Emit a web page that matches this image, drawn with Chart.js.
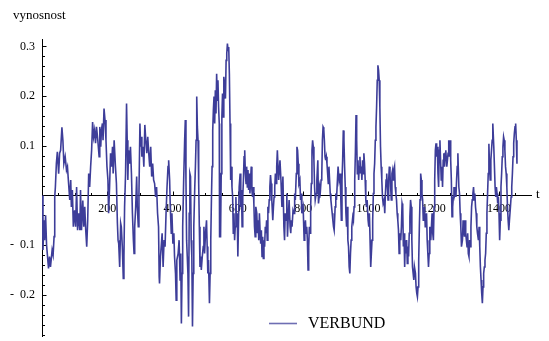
<!DOCTYPE html>
<html><head><meta charset="utf-8">
<script src="https://cdn.jsdelivr.net/npm/chart.js@4.4.1/dist/chart.umd.min.js"></script>
<style>html,body{margin:0;padding:0;background:#fff;overflow:hidden}#wrap{width:549px;height:341px}</style>
</head><body><div id="wrap"><canvas id="c" width="549" height="341"></canvas></div>
<script>
const seriesName = 'VERBUND';
const xAxisTitle = 't';
const yAxisTitle = 'vynosnost';
const xTickLabels = [200, 400, 600, 800, 1000, 1200, 1400];
const yTickLabels = [-0.2, -0.1, 0.1, 0.2, 0.3];

const days = [
1,3,6,8,11,14,20,23,26,31,
34,37,39,41,44,47,51,54,57,61,
64,67,71,75,78,80,85,88,90,93,
96,100,103,106,109,112,116,118,121,125,
128,131,134,137,140,143,146,149,152,155,
158,161,164,167,
171,175,177,180,182,185,187,190,193,196,
199,202,204,207,210,213,216,218,221,225,
228,231,233,235,238,241,243,246,249,251,
253,256,259,261,263,265,268,271,274,277,
280,282,284,287,290,292,295,297,300,302,
304,306,309,312,315,318,321,324,327,330,
333,336,339,342,345,348,351,354,357,359,
360,363,368,371,374,377,380,383,386,388,
391,393,396,398,401,404,406,409,411,413,
417,420,423,425,427,429,431,434,437,439,
441,443,445,447,449,451,453,455,457,459,
461,463,465,468,470,472,474,476,478,480,
482,484,486,488,491,494,496,498,501,504,
506,508,510,513,515,517,519,521,523,525,
527,529,531,533,535,537,539,541,543,
544,547,549,551,553,555,557,560,562,564,
566,568,570,572,574,576,578,580,582,584,
586,588,590,592,594,596,598,600,602,604,
607,609,611,613,615,617,619,621,623,625,
627,629,631,633,635,637,639,641,643,645,
647,649,651,653,655,658,660,662,664,666,
668,670,672,674,676,678,680,682,684,686,
688,690,692,694,696,698,700,702,704,707,
709,711,713,715,717,719,721,723,725,
729,732,735,738,741,743,745,748,750,752,
754,757,760,762,764,766,769,772,774,776,
779,781,783,785,787,790,792,794,796,800,
803,805,807,809,811,813,815,817,819,821,
823,825,827,829,831,833,835,837,840,842,
845,847,849,851,853,855,857,859,861,863,
865,867,869,871,873,875,877,879,881,883,
885,887,889,891,893,895,898,900,902,904,
907,910,913,915,917,919,921,923,925,927,
929,931,933,935,937,939,941,943,945,947,
949,952,954,956,958,960,962,964,966,968,
970,972,974,976,978,980,982,984,986,988,
990,992,994,996,999,1001,1003,1005,1007,1009,
1011,1013,1015,1017,1019,1021,1023,1025,1027,1029,
1031,1033,1035,1037,1039,1041,1043,1045,1048,1050,
1052,1054,1056,1058,1060,1062,1064,1066,1068,1070,
1072,1074,1076,1078,1080,1082,1084,1086,1088,1090,
1092,
1094,1096,1099,1101,1103,1105,1107,1109,1111,1113,
1115,1117,1119,1121,1123,1125,1127,1129,1131,1133,
1135,1137,1139,1141,1144,1146,1148,1150,1152,1154,
1156,1158,1160,1162,1164,1166,1168,1170,1172,1174,
1176,1178,1180,1182,1184,1186,1188,1191,1193,1195,
1197,1199,1201,1203,1205,1207,1209,1211,1213,1215,
1217,1219,1221,1223,1225,1227,1229,1231,1233,1235,
1237,1240,1242,1244,1246,1248,1250,1252,1254,1256,
1258,1260,1262,1264,1266,1268,1270,1272,1274,
1277,1279,1281,1283,1285,1288,1290,1292,1294,1296,
1298,1300,1302,1304,1306,1308,1310,1312,1314,1316,
1318,1320,1322,1324,1326,1328,1330,1332,1334,1337,
1339,1341,1343,1345,1347,1349,1351,1353,1355,1357,
1359,1361,1363,1365,1367,1369,1371,1373,1375,1377,
1379,1381,1384,1386,1388,1390,1392,1394,1396,1398,
1400,1402,1404,1406,1408,1410,1412,1414,1416,1418,
1420,1422,1424,1426,1428,1430,1432,1435,1437,1439,
1441,1443,1445,1447,1449,1451,1453,1455
];

const returns = [
0.0,-0.11,-0.05,-0.09,-0.04,-0.10,-0.147,-0.123,-0.144,-0.11,
-0.12,-0.083,-0.003,0.017,0.064,0.088,0.044,0.085,0.091,0.137,
0.111,0.064,0.078,0.051,0.058,0.038,-0.009,0.031,-0.023,0.011,
-0.063,-0.03,-0.063,0.017,-0.07,-0.036,-0.07,0.011,-0.07,-0.01,
-0.063,-0.023,-0.07,-0.103,-0.05,0.044,0.017,0.058,0.091,0.148,
0.118,0.131,0.105,0.138,
0.111,0.078,0.138,0.098,0.131,0.145,0.111,0.175,0.152,0.111,
0.058,0.031,-0.036,0.017,0.085,0.058,0.098,0.044,0.111,0.058,
0.024,-0.056,-0.09,-0.097,-0.144,-0.056,-0.063,-0.103,-0.167,-0.123,
-0.023,0.044,0.185,0.111,0.031,0.091,0.064,0.098,0.044,-0.036,
-0.09,-0.117,-0.063,-0.023,0.038,-0.023,-0.063,0.004,0.145,0.098,
0.118,0.078,0.098,0.058,0.142,0.111,0.085,0.118,0.085,0.058,
0.098,0.038,0.064,0.031,0.024,-0.003,0.017,-0.036,-0.063,-0.164,
-0.177,-0.123,-0.076,-0.144,-0.09,-0.103,-0.036,0.017,0.058,0.071,
0.031,-0.023,-0.076,-0.036,-0.097,-0.076,-0.123,-0.157,-0.211,-0.13,
-0.117,-0.09,-0.17,-0.117,-0.258,-0.157,-0.063,0.031,0.111,0.152,
0.031,-0.09,-0.123,-0.157,-0.244,-0.036,0.044,0.038,-0.09,-0.123,
-0.264,-0.157,-0.063,0.017,0.058,0.111,0.199,0.138,0.111,0.024,
-0.063,-0.144,-0.123,-0.15,-0.123,-0.103,-0.063,-0.117,-0.076,-0.05,
-0.103,-0.157,-0.13,-0.217,-0.157,-0.09,-0.009,0.058,0.131,0.172,
0.199,0.145,0.212,0.165,0.245,0.192,0.232,0.178,0.145,
-0.083,-0.083,0.044,0.158,0.205,0.158,0.239,0.219,0.195,0.272,
0.286,0.306,0.292,0.299,0.245,0.145,0.031,0.058,0.017,-0.003,
-0.076,-0.036,-0.09,-0.063,-0.003,-0.063,-0.036,-0.123,-0.056,0.017,
0.044,-0.023,0.011,-0.063,-0.003,0.031,0.078,0.091,0.044,0.024,
0.058,0.017,0.051,0.011,0.044,0.004,0.031,0.058,0.011,-0.003,
0.017,-0.016,-0.063,-0.083,-0.023,-0.036,-0.076,-0.05,-0.09,-0.036,
-0.07,-0.097,-0.07,-0.123,-0.083,-0.127,-0.09,-0.103,-0.063,-0.076,
-0.05,-0.09,-0.023,-0.036,-0.009,0.017,0.041,0.024,-0.009,-0.05,
-0.023,-0.003,0.017,0.044,0.024,0.058,0.091,0.058,0.031,
0.071,0.031,-0.023,0.038,-0.063,-0.09,-0.036,-0.05,0.004,-0.083,
-0.05,-0.009,-0.063,-0.076,-0.05,-0.063,-0.03,-0.036,0.004,-0.009,
0.044,0.098,0.091,0.064,0.024,0.031,-0.009,0.004,-0.036,-0.023,
-0.09,-0.063,-0.05,-0.076,-0.063,-0.09,-0.15,-0.103,-0.063,-0.076,
-0.023,0.024,0.091,0.111,0.098,0.071,0.017,-0.009,0.004,0.031,
0.071,-0.016,-0.003,0.017,0.011,0.031,0.038,0.111,0.138,0.135,
0.111,0.078,0.071,0.078,0.064,0.044,0.024,0.058,0.031,0.004,
-0.009,-0.023,-0.036,-0.05,-0.063,-0.07,-0.023,0.004,-0.009,0.017,
0.058,0.031,0.044,0.004,-0.05,0.031,0.071,0.131,0.111,0.058,
0.017,-0.036,-0.063,-0.023,-0.09,-0.103,-0.144,-0.157,-0.117,-0.09,
-0.063,-0.043,-0.05,-0.023,0.031,0.085,0.162,0.111,0.044,0.071,
0.031,0.058,0.078,0.044,0.058,0.031,0.071,0.044,0.085,0.064,
0.031,-0.009,-0.023,-0.009,-0.05,-0.063,-0.036,-0.09,-0.144,-0.117,
-0.09,-0.05,0.004,0.044,0.064,0.111,0.138,0.178,0.232,0.262,
0.252,0.232,0.178,0.098,0.058,0.031,-0.003,-0.016,-0.009,-0.036,
0.004,0.031,0.044,0.017,-0.009,0.031,0.058,0.044,0.017,-0.009,
0.044,0.051,0.031,0.051,0.058,0.017,0.004,-0.009,-0.036,-0.05,
-0.07,
-0.117,-0.076,-0.09,-0.063,-0.016,-0.023,-0.103,-0.076,-0.144,-0.09,
-0.117,-0.09,-0.137,-0.103,-0.123,-0.076,-0.043,-0.009,-0.023,-0.09,
-0.144,-0.157,-0.17,-0.144,-0.157,-0.184,-0.197,-0.204,-0.184,-0.13,
-0.063,-0.009,0.044,0.031,0.004,-0.009,-0.05,-0.036,-0.023,-0.063,
-0.05,-0.036,-0.09,-0.117,-0.144,-0.117,-0.063,-0.09,-0.063,-0.036,
-0.076,-0.09,-0.023,0.031,0.091,0.105,0.078,0.098,0.044,0.017,
0.091,0.111,0.071,0.031,0.058,0.017,0.071,0.085,0.058,0.085,
0.091,0.058,0.071,0.085,0.111,0.078,0.111,0.071,0.031,-0.043,
-0.023,-0.003,0.017,0.004,0.017,-0.003,0.031,0.058,0.085,
0.017,0.004,-0.036,-0.063,-0.103,-0.09,-0.05,-0.063,-0.083,-0.05,
-0.076,-0.09,-0.103,-0.076,-0.117,-0.123,-0.09,-0.103,-0.063,-0.023,
-0.009,0.004,0.017,-0.009,0.004,-0.023,-0.036,-0.063,-0.076,-0.09,
-0.063,-0.103,-0.144,-0.17,-0.197,-0.217,-0.184,-0.157,-0.144,-0.13,
-0.117,-0.076,-0.036,0.004,0.044,0.104,0.058,0.031,0.071,0.091,
0.111,0.145,0.098,0.058,0.017,-0.003,0.017,0.004,-0.016,-0.003,
-0.036,-0.09,-0.05,0.017,0.044,0.078,0.098,0.118,0.111,0.091,
0.058,0.044,0.017,-0.023,-0.05,-0.07,-0.05,-0.023,-0.003,0.017,
0.044,0.078,0.105,0.125,0.138,0.145,0.111,0.064
];

const FONT_FAMILY = '"Liberation Serif", "Times New Roman", Times, serif';
const LINE_COLOR = '#3d3d99';

const points = days.map((d, i) => ({ x: d, y: returns[i] }));
if (days.length !== returns.length) console.error('length mismatch', days.length, returns.length);

function fmtY(v) {
  const r = Math.round(v * 10) / 10;
  if (!yTickLabels.some(t => Math.abs(t - r) < 1e-9) || Math.abs(v - r) > 1e-6) return '';
  return r < 0 ? '-  ' + Math.abs(r).toFixed(1) : r.toFixed(1);
}

function noEdgePadding(s) {
  s.paddingTop = 0; s.paddingBottom = 0; s.paddingLeft = 0; s.paddingRight = 0;
}

const mmaAxes = {
  id: 'mmaAxes',
  beforeDatasetsDraw(chart) {
    const ctx = chart.ctx, xs = chart.scales.x, ys = chart.scales.y;
    const x0 = Math.round(xs.getPixelForValue(0)) + 0.5;
    const y0 = Math.round(ys.getPixelForValue(0)) + 0.5;
    ctx.save();
    ctx.strokeStyle = '#000';
    ctx.lineWidth = 1;
    ctx.beginPath();
    for (let v = 50; v <= xs.max; v += 50) {
      const px = Math.round(xs.getPixelForValue(v)) + 0.5;
      const len = (v % 200 === 0) ? 4 : 2.5;
      ctx.moveTo(px, y0); ctx.lineTo(px, y0 - len);
    }
    for (let k = Math.ceil(ys.min / 0.02); k * 0.02 <= ys.max; k++) {
      if (k === 0) continue;
      const py = Math.round(ys.getPixelForValue(k * 0.02)) + 0.5;
      const len = (k % 5 === 0) ? 4 : 2.5;
      ctx.moveTo(x0, py); ctx.lineTo(x0 + len, py);
    }
    ctx.stroke();
    ctx.restore();
  },
  afterDraw(chart) {
    const ctx = chart.ctx, ys = chart.scales.y;
    const y0 = ys.getPixelForValue(0);
    ctx.save();
    ctx.fillStyle = '#000';
    ctx.textBaseline = 'middle';
    ctx.font = '13px ' + FONT_FAMILY;
    ctx.textAlign = 'left';
    ctx.fillText(yAxisTitle, 13, 16);
    ctx.fillText(xAxisTitle, chart.chartArea.right + 5, y0 - 1);
    const ds = chart.data.datasets[0];
    ctx.strokeStyle = 'rgba(61,61,153,0.75)';
    ctx.lineWidth = 1.6;
    ctx.beginPath();
    ctx.moveTo(269, 323.5); ctx.lineTo(297, 323.5);
    ctx.stroke();
    ctx.font = '16px ' + FONT_FAMILY;
    ctx.fillText(ds.label, 308, 324);
    ctx.restore();
  }
};

new Chart(document.getElementById('c'), {
  type: 'line',
  data: {
    datasets: [{
      label: seriesName,
      data: points,
      borderColor: LINE_COLOR,
      borderWidth: 1.6,
      pointRadius: 0,
      tension: 0,
      fill: false
    }]
  },
  options: {
    responsive: false,
    animation: false,
    devicePixelRatio: 1,
    layout: { padding: { left: 0, top: 39, right: 18, bottom: 5 } },
    plugins: { legend: { display: false }, tooltip: { enabled: false } },
    scales: {
      x: {
        type: 'linear',
        min: 0, max: 1498,
        position: { y: 0 },
        afterFit: s => { s.height = 0; noEdgePadding(s); },
        grid: { drawOnChartArea: false, drawTicks: false },
        border: { display: true, color: '#000', width: 1 },
        ticks: {
          stepSize: 200, includeBounds: false, autoSkip: false, maxRotation: 0,
          padding: 6, color: '#000', font: { family: FONT_FAMILY, size: 12 },
          callback: v => xTickLabels.includes(v) ? String(v) : ''
        }
      },
      y: {
        type: 'linear',
        min: -0.283, max: 0.315,
        position: 'left',
        afterFit: s => { s.width = 42; noEdgePadding(s); },
        grid: { drawOnChartArea: false, drawTicks: false },
        border: { display: true, color: '#000', width: 1 },
        ticks: {
          stepSize: 0.1, includeBounds: false, autoSkip: false,
          padding: 7, color: '#000', font: { family: FONT_FAMILY, size: 12 },
          callback: v => fmtY(v)
        }
      }
    }
  },
  plugins: [mmaAxes]
});
</script>
</body></html>
